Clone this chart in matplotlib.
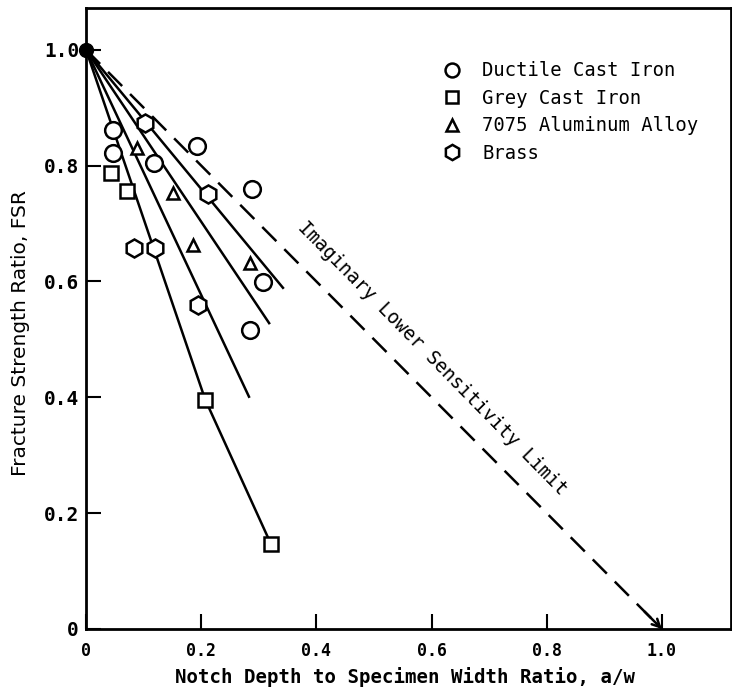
import matplotlib
matplotlib.use("Agg")
import matplotlib.pyplot as plt
from matplotlib.lines import Line2D

# ---- data ----
ductile_x = [0.047, 0.047, 0.118, 0.193, 0.289, 0.307, 0.285]
ductile_y = [0.862, 0.822, 0.805, 0.834, 0.760, 0.599, 0.516]

grey_x = [0.043, 0.071, 0.207, 0.321]
grey_y = [0.788, 0.756, 0.396, 0.147]

al_x = [0.089, 0.151, 0.186, 0.285]
al_y = [0.831, 0.753, 0.663, 0.632]

brass_x = [0.102, 0.083, 0.120, 0.194, 0.212]
brass_y = [0.874, 0.658, 0.658, 0.560, 0.751]

# trend lines, all starting from (0, 1.0)
line_a_x = [0.0, 0.207, 0.321]
line_a_y = [1.0, 0.396, 0.147]
line_b_x = [0.0, 0.283]
line_b_y = [1.0, 0.401]
line_c_x = [0.0, 0.318]
line_c_y = [1.0, 0.528]
line_d_x = [0.0, 0.342]
line_d_y = [1.0, 0.589]

limit_x = [0.0, 1.0]
limit_y = [1.0, 0.0]

origin_x = [0.0]
origin_y = [1.0]

x_ticks = [0.0, 0.2, 0.4, 0.6, 0.8, 1.0]
x_tick_labels = ["0", "0.2", "0.4", "0.6", "0.8", "1.0"]
y_ticks = [0.0, 0.2, 0.4, 0.6, 0.8, 1.0]
y_tick_labels = ["0", "0.2", "0.4", "0.6", "0.8", "1.0"]

series_labels = ["Ductile Cast Iron", "Grey Cast Iron", "7075 Aluminum Alloy", "Brass"]

MONO = "DejaVu Sans Mono"

fig = plt.figure(figsize=(7.32, 6.96), dpi=100)
ax = fig.add_axes([86 / 732, (696 - 629) / 696, 645 / 732, 621 / 696])
ax.set_xlim(0, 1.12)
ax.set_ylim(0, 1.072)

lw = 1.8
for xs, ys in [(line_a_x, line_a_y), (line_b_x, line_b_y),
               (line_c_x, line_c_y), (line_d_x, line_d_y)]:
    ax.plot(xs, ys, color="black", lw=lw, zorder=2)

# dashed limit line
ax.plot(limit_x, limit_y, color="black", lw=lw, linestyle=(0, (8, 4.5)), zorder=2)
ax.annotate("", xy=(limit_x[1], limit_y[1]),
            xytext=(limit_x[1] - 0.03, limit_y[1] + 0.03),
            arrowprops=dict(arrowstyle="->", lw=lw, color="black",
                            mutation_scale=14, shrinkA=0, shrinkB=0))

mk = dict(markerfacecolor="white", markeredgecolor="black",
          markeredgewidth=1.8, linestyle="none", zorder=3)
ax.plot(ductile_x, ductile_y, marker="o", markersize=12, **mk)
ax.plot(grey_x, grey_y, marker="s", markersize=9.5, **mk)
ax.plot(al_x, al_y, marker="^", markersize=9, **mk)
ax.plot(brass_x, brass_y, marker="h", markersize=13, **mk)

ax.plot(origin_x, origin_y, marker="o", markersize=10, color="black",
        linestyle="none", zorder=4, clip_on=False)

# annotation along the limit line
ax.text(0.601, 0.468, "Imaginary Lower Sensitivity Limit", family=MONO,
        fontsize=13.6, rotation=-45.5, rotation_mode="anchor",
        ha="center", va="center")

# legend
handles = [
    Line2D([], [], marker="o", markersize=10, **mk),
    Line2D([], [], marker="s", markersize=9, **mk),
    Line2D([], [], marker="^", markersize=9, **mk),
    Line2D([], [], marker="h", markersize=11, **mk),
]
leg = ax.legend(handles, series_labels, loc="upper left",
                bbox_to_anchor=(0.553, 0.914), frameon=False,
                borderpad=0, borderaxespad=0, handlelength=1.0,
                handletextpad=1.1, labelspacing=0.45,
                prop={"family": MONO, "size": 13.6})

# axes styling
for s in ax.spines.values():
    s.set_linewidth(2.0)
ax.set_xticks(x_ticks)
ax.set_xticklabels(x_tick_labels, family=MONO, fontsize=12, fontweight="bold")
ax.set_yticks(y_ticks)
ax.set_yticklabels(y_tick_labels, family=MONO, fontsize=14, fontweight="bold")
ax.tick_params(axis="x", direction="in", length=11, width=1.5, pad=9)
ax.tick_params(axis="y", direction="in", length=11, width=1.5, pad=5)

ax.set_xlabel("Notch Depth to Specimen Width Ratio, a/w", family=MONO,
              fontsize=13.7, fontweight="bold")
ax.xaxis.set_label_coords(0.494, -0.0773)
ax.xaxis.label.set_va("center")

ax.set_ylabel("Fracture Strength Ratio, FSR", family="DejaVu Sans", fontsize=14.5)
ax.yaxis.set_label_coords(-0.1008, 0.477)
ax.yaxis.label.set_va("center")

fig.savefig("out.png", dpi=100)
